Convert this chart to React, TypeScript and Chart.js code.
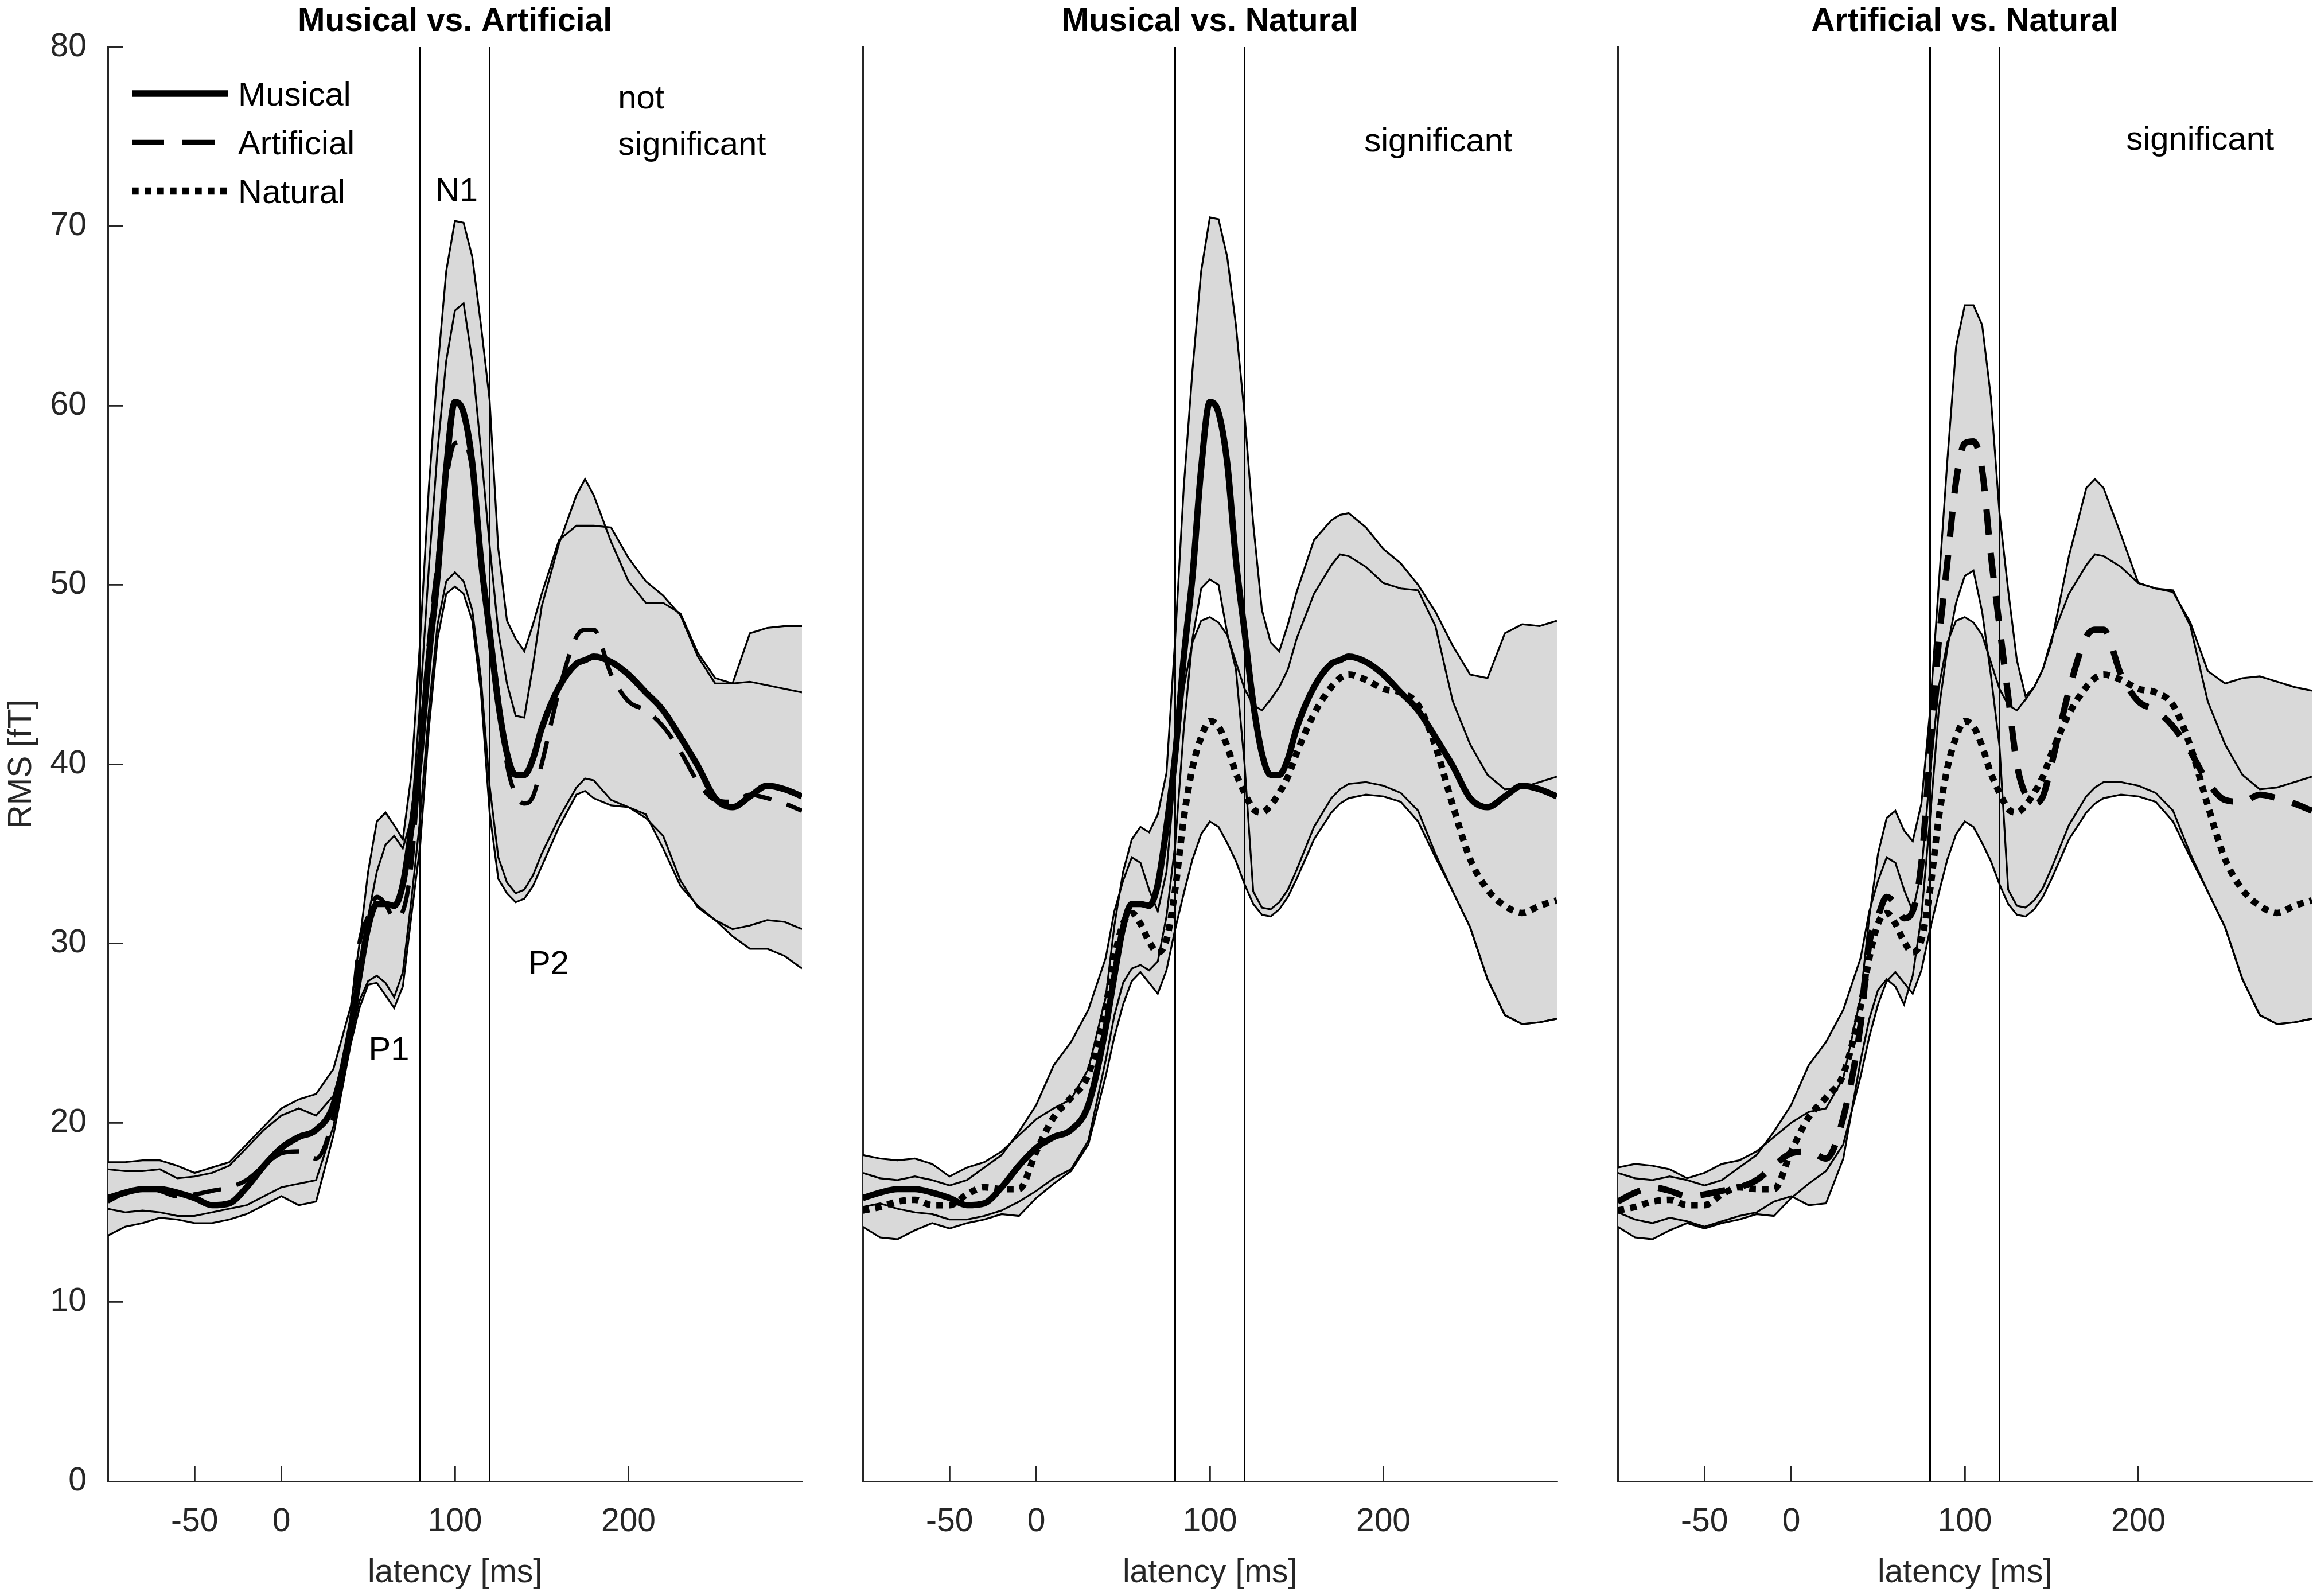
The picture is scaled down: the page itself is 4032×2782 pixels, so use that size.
import { useEffect, useRef } from "react"
import { Chart, registerables } from "chart.js"

Chart.register(...registerables)

const FONT = "'Liberation Sans', Arial, Helvetica, sans-serif"
const AXIS_GREY = "#262626"
const BAND_GREY = "#d9d9d9"

// latency grid (ms), finer around P1 / N1
const latency = [
  -100, -90, -80, -70, -60, -50, -40, -30, -20, -10, 0, 10, 20, 30,
  40, 45, 50, 55, 60, 65, 70, 75, 80, 85, 90, 95, 100, 105, 110, 115, 120, 125, 130, 135, 140, 145, 150,
  160, 170, 175, 180, 190, 200, 210, 220, 230, 240, 250, 260, 270, 280, 290, 300,
]

// condition means (fT)
const musicalMean = [
  15.8, 16.1, 16.3, 16.3, 16.1, 15.8, 15.4, 15.5, 16.4, 17.6, 18.6, 19.2, 19.6, 21.0,
  25.3, 28.2, 30.9, 32.2, 32.2, 32.1, 33.3, 36.5, 40.5, 46.0, 50.5, 56.5, 60.2, 59.6, 56.8, 51.4, 47.4, 43.4, 40.6, 39.4, 39.4, 40.3, 42.0,
  44.3, 45.6, 45.8, 46.0, 45.7, 45.0, 44.0, 43.0, 41.5, 39.9, 38.1, 37.6, 38.2, 38.8, 38.6, 38.2,
]
const artificialMean = [
  15.6, 16.1, 16.4, 16.2, 15.9, 16.0, 16.2, 16.4, 16.8, 17.6, 18.3, 18.4, 18.0, 20.3,
  25.5, 30.0, 31.5, 32.6, 32.2, 31.4, 31.8, 34.5, 40.7, 46.8, 51.3, 55.8, 57.9, 58.0, 56.4, 51.7, 47.7, 43.8, 40.0, 38.3, 37.8, 38.2, 40.0,
  44.1, 47.1, 47.5, 47.5, 45.0, 43.5, 43.0, 42.1, 40.7, 39.0, 38.0, 37.9, 38.3, 38.1, 37.8, 37.4,
]
const naturalMean = [
  15.1, 15.3, 15.6, 15.7, 15.4, 15.4, 16.0, 16.4, 16.3, 16.3, 18.4, 20.3, 21.4, 22.7,
  26.5, 29.2, 31.1, 31.7, 31.1, 30.1, 29.5, 30.2, 33.0, 37.0, 39.8, 41.5, 42.4, 42.1, 41.0, 39.5, 38.4, 37.5, 37.3, 37.7, 38.4, 39.3, 40.6,
  42.8, 44.3, 44.8, 45.0, 44.7, 44.2, 44.0, 43.3, 41.0, 37.7, 34.7, 33.0, 32.1, 31.7, 32.1, 32.4,
]

// shaded band outlines, as drawn in each panel
const p1MusicalUpper = [
  17.8, 17.8, 17.9, 17.9, 17.6, 17.2, 17.5, 17.8, 18.8, 19.8, 20.8, 21.3, 21.6, 23.0,
  26.5, 30.0, 34.0, 36.8, 37.3, 36.6, 35.8, 39.5, 47.0, 55.5, 62.0, 67.5, 70.3, 70.2, 68.3, 64.5, 60.3, 52.0, 48.0, 47.0, 46.3, 47.8, 49.5,
  52.5, 53.3, 53.3, 53.3, 53.2, 51.5, 50.2, 49.4, 48.3, 46.0, 44.5, 44.5, 47.3, 47.6, 47.7, 47.7,
]
const p1MusicalLower = [
  13.7, 14.2, 14.4, 14.7, 14.6, 14.4, 14.4, 14.6, 14.9, 15.4, 15.9, 15.4, 15.6, 19.3,
  24.4, 26.4, 27.7, 27.8, 27.1, 26.4, 27.6, 31.6, 35.5, 42.0, 47.0, 49.5, 49.9, 49.5, 48.0, 44.0, 37.3, 33.6, 32.8, 32.3, 32.5, 33.2, 34.3,
  36.5, 38.3, 38.5, 38.1, 37.7, 37.6, 37.0, 36.0, 33.5, 32.0, 31.3, 30.4, 29.7, 29.7, 29.3, 28.6,
]
const p1ArtificialUpper = [
  17.4, 17.3, 17.3, 17.4, 16.9, 17.0, 17.2, 17.6, 18.6, 19.6, 20.4, 20.8, 20.4, 21.5,
  25.0, 28.0, 31.5, 34.0, 35.5, 36.0, 35.3, 37.0, 43.5, 51.0, 57.5, 62.5, 65.3, 65.7, 62.5, 57.5, 52.2, 47.4, 44.5, 42.7, 42.6, 45.5, 48.8,
  52.3, 55.0, 55.9, 55.0, 52.4, 50.2, 49.0, 49.0, 48.4, 46.2, 44.8, 44.5, 44.6, 44.4, 44.2, 44.0,
]
const p1ArtificialLower = [
  15.2, 15.0, 15.1, 15.0, 14.8, 14.8, 15.0, 15.2, 15.4, 15.9, 16.4, 16.6, 16.8, 19.8,
  24.8, 26.8, 27.9, 28.2, 27.8, 27.0, 28.4, 32.5, 37.0, 43.0, 47.8, 50.2, 50.7, 50.2, 48.6, 44.8, 38.8, 34.8, 33.4, 32.8, 33.0, 33.8, 35.0,
  37.0, 38.7, 39.2, 39.1, 38.0, 37.6, 37.2, 35.3, 33.2, 32.1, 31.3, 30.8, 31.0, 31.3, 31.2, 30.8,
]
const p2MusicalUpper = [
  18.2, 18.0, 17.9, 18.0, 17.7, 17.0, 17.5, 17.8, 18.4, 19.3, 20.2, 20.8, 21.3, 23.0,
  27.0, 31.0, 34.0, 35.8, 36.5, 36.2, 37.2, 39.5, 47.0, 55.5, 62.0, 67.5, 70.5, 70.4, 68.3, 64.5, 59.5, 53.4, 48.6, 46.8, 46.3, 47.8, 49.6,
  52.5, 53.6, 53.9, 54.0, 53.2, 52.0, 51.2, 50.0, 48.5, 46.6, 45.0, 44.8, 47.3, 47.8, 47.7, 48.0,
]
const p2MusicalLower = [
  15.3, 15.5, 15.2, 15.0, 14.9, 14.6, 14.6, 14.8, 15.1, 15.6, 16.2, 16.9, 17.4, 19.0,
  23.5, 26.0, 27.8, 28.6, 28.8, 28.5, 29.0, 31.5, 35.5, 42.0, 47.0, 49.8, 50.3, 50.0, 47.3, 45.3, 40.0, 32.9, 32.0, 31.9, 32.3, 33.0, 34.1,
  36.5, 38.1, 38.6, 38.9, 39.0, 38.8, 38.4, 37.4, 35.0, 32.9, 30.9, 28.0, 26.0, 25.5, 25.6, 25.8,
]
const p3ArtificialUpper = [
  17.5, 17.7, 17.6, 17.4, 16.9, 17.2, 17.7, 17.9, 18.4, 19.2, 20.0, 20.6, 20.8, 22.5,
  27.0, 31.5, 35.0, 37.0, 37.4, 36.3, 35.7, 37.8, 43.0, 50.0, 57.0, 63.3, 65.6, 65.6, 64.5, 60.5, 54.0, 49.7, 45.8, 43.8, 44.3, 45.3, 46.8,
  51.6, 55.4, 55.9, 55.4, 52.8, 50.1, 49.8, 49.6, 47.9, 45.2, 44.5, 44.8, 44.9, 44.6, 44.3, 44.1,
]
const p3ArtificialLower = [
  15.0, 14.6, 14.4, 14.7, 14.5, 14.2, 14.5, 14.8, 15.0, 15.6, 15.9, 15.4, 15.5, 18.0,
  23.5, 25.8, 27.4, 28.0, 27.6, 26.6, 28.2, 31.5, 37.0, 43.0, 46.5, 49.0, 50.5, 50.8, 48.5, 45.0, 41.0, 33.0, 32.1, 32.0, 32.4, 33.1, 34.2,
  36.6, 38.2, 38.7, 39.0, 39.0, 38.8, 38.4, 37.4, 35.0, 32.9, 30.9, 28.0, 26.0, 25.5, 25.6, 25.8,
]
const naturalUpper = [
  17.2, 16.9, 16.8, 17.0, 16.8, 16.5, 16.8, 17.5, 18.2, 19.5, 21.0, 23.2, 24.5, 26.3,
  29.2, 31.8, 33.5, 34.8, 34.5, 33.0, 31.8, 34.0, 39.5, 44.3, 46.8, 48.0, 48.2, 47.9, 47.2, 45.7, 44.2, 43.3, 43.0, 43.6, 44.3, 45.3, 47.0,
  49.5, 51.1, 51.7, 51.6, 51.0, 50.1, 49.8, 49.7, 47.7, 43.5, 41.1, 39.4, 38.6, 38.7, 39.0, 39.3,
]
const naturalLower = [
  14.2, 13.6, 13.5, 14.0, 14.4, 14.1, 14.4, 14.6, 14.9, 14.8, 15.8, 16.6, 17.3, 18.8,
  22.6, 24.8, 26.6, 27.9, 28.4, 27.8, 27.2, 28.5, 30.8, 32.8, 34.7, 36.1, 36.8, 36.5, 35.6, 34.6, 33.3, 32.2, 31.6, 31.5, 31.9, 32.6, 33.6,
  35.8, 37.3, 37.8, 38.1, 38.3, 38.2, 37.9, 36.8, 34.8, 32.9, 30.9, 28.0, 26.0, 25.5, 25.6, 25.8,
]

const xTicks = [-50, 0, 100, 200]
const xRange = [-100, 300]
const yRange = [0, 80]
const n1Window = [80, 120]
const legendLabels = ["Musical", "Artificial", "Natural"]

type LineStyle = { width: number; dash: number[] }

const solidLine: LineStyle = { width: 11, dash: [] }
const thinDash: LineStyle = { width: 7.5, dash: [50, 28] }
const thickDash: LineStyle = { width: 11, dash: [44, 32] }
const dotted: LineStyle = { width: 11.5, dash: [11.5, 10.5] }
const legendStyles: LineStyle[] = [
  { width: 11.5, dash: [] },
  { width: 8.3, dash: [56, 32] },
  { width: 12.5, dash: [11.7, 10.3] },
]

interface Note {
  text: string
  x: number
  y: number
  align: CanvasTextAlign
}

interface Panel {
  title: string
  left: number
  width: number
  plotLeft: number
  plotRight: number
  yLabels: boolean
  means: { values: number[]; style: LineStyle }[]
  bands: { upper: number[]; lower: number[] }[]
  notes: Note[]
  legend: boolean
}

const panels: Panel[] = [
  {
    title: "Musical vs. Artificial",
    left: 0,
    width: 1450,
    plotLeft: 188,
    plotRight: 1398,
    yLabels: true,
    means: [
      { values: musicalMean, style: solidLine },
      { values: artificialMean, style: thinDash },
    ],
    bands: [
      { upper: p1MusicalUpper, lower: p1MusicalLower },
      { upper: p1ArtificialUpper, lower: p1ArtificialLower },
    ],
    notes: [
      { text: "N1", x: 101, y: 71.9, align: "center" },
      { text: "P1", x: 62, y: 24.0, align: "center" },
      { text: "P2", x: 154, y: 28.8, align: "center" },
      { text: "not", x: 194, y: 77.1, align: "left" },
      { text: "significant", x: 194, y: 74.5, align: "left" },
    ],
    legend: true,
  },
  {
    title: "Musical vs. Natural",
    left: 1450,
    width: 1316,
    plotLeft: 54,
    plotRight: 1264,
    yLabels: false,
    means: [
      { values: musicalMean, style: solidLine },
      { values: naturalMean, style: dotted },
    ],
    bands: [
      { upper: p2MusicalUpper, lower: p2MusicalLower },
      { upper: naturalUpper, lower: naturalLower },
    ],
    notes: [{ text: "significant", x: 189, y: 74.7, align: "left" }],
    legend: false,
  },
  {
    title: "Artificial vs. Natural",
    left: 2766,
    width: 1266,
    plotLeft: 54,
    plotRight: 1264,
    yLabels: false,
    means: [
      { values: artificialMean, style: thickDash },
      { values: naturalMean, style: dotted },
    ],
    bands: [
      { upper: p3ArtificialUpper, lower: p3ArtificialLower },
      { upper: naturalUpper, lower: naturalLower },
    ],
    notes: [{ text: "significant", x: 193, y: 74.8, align: "left" }],
    legend: false,
  },
]

const toPoints = (ys: number[]) => ys.map((y, i) => ({ x: latency[i], y }))

function PanelChart({ panel }: { panel: Panel }) {
  const canvasRef = useRef<HTMLCanvasElement>(null)
  const chartRef = useRef<Chart | null>(null)

  useEffect(() => {
    if (!canvasRef.current) return
    if (chartRef.current) chartRef.current.destroy()

    const datasets: any[] = []
    // means first so they end up on top
    panel.means.forEach((m) =>
      datasets.push({
        data: toPoints(m.values),
        borderColor: "#000",
        borderWidth: m.style.width,
        borderDash: m.style.dash,
        borderCapStyle: "butt",
        borderJoinStyle: "round",
        cubicInterpolationMode: "monotone",
        pointRadius: 0,
        fill: false,
      })
    )
    n1Window.forEach((t) =>
      datasets.push({
        data: [
          { x: t, y: yRange[0] },
          { x: t, y: yRange[1] },
        ],
        borderColor: "#000",
        borderWidth: 3,
        pointRadius: 0,
        fill: false,
      })
    )
    panel.bands.forEach((b) => {
      datasets.push({
        data: toPoints(b.upper),
        borderColor: "#000",
        borderWidth: 3.2,
        pointRadius: 0,
        fill: "+1",
        backgroundColor: BAND_GREY,
      })
      datasets.push({
        data: toPoints(b.lower),
        borderColor: "#000",
        borderWidth: 3.2,
        pointRadius: 0,
        fill: false,
      })
    })

    const decor = {
      id: "decor",
      afterDatasetsDraw(chart: any) {
        const { ctx, chartArea, scales } = chart
        ctx.save()
        ctx.fillStyle = "#000"
        ctx.font = `bold 57px ${FONT}`
        ctx.textAlign = "center"
        ctx.textBaseline = "alphabetic"
        ctx.fillText(panel.title, (chartArea.left + chartArea.right) / 2, 54)

        ctx.font = `58px ${FONT}`
        ctx.textBaseline = "middle"
        panel.notes.forEach((n) => {
          ctx.textAlign = n.align
          ctx.fillText(n.text, scales.x.getPixelForValue(n.x), scales.y.getPixelForValue(n.y))
        })

        if (panel.legend) {
          legendLabels.forEach((label, i) => {
            const style = legendStyles[i]
            const y = chartArea.top + 81 + i * 85
            ctx.beginPath()
            ctx.strokeStyle = "#000"
            ctx.lineWidth = style.width
            ctx.lineCap = "butt"
            ctx.setLineDash(style.dash)
            ctx.moveTo(chartArea.left + 42, y)
            ctx.lineTo(chartArea.left + 209, y)
            ctx.stroke()
            ctx.setLineDash([])
            ctx.textAlign = "left"
            ctx.fillText(label, chartArea.left + 227, y + 5)
          })
        }
        ctx.restore()
      },
    }

    chartRef.current = new Chart(canvasRef.current, {
      type: "line",
      data: { datasets },
      plugins: [decor],
      options: {
        responsive: true,
        maintainAspectRatio: false,
        animation: false,
        events: [],
        layout: { padding: { top: 82, right: panel.width - panel.plotRight, left: 0, bottom: 0 } },
        plugins: {
          legend: { display: false },
          tooltip: { enabled: false },
          filler: { propagate: false, drawTime: "beforeDatasetsDraw" },
        },
        scales: {
          x: {
            type: "linear",
            min: xRange[0],
            max: xRange[1],
            afterBuildTicks: (axis: any) => {
              axis.ticks = xTicks.map((value) => ({ value }))
            },
            afterFit: (axis: any) => {
              axis.height = 200
              axis.paddingLeft = 0
              axis.paddingRight = 0
            },
            grid: {
              drawOnChartArea: false,
              drawTicks: true,
              tickLength: -26,
              color: AXIS_GREY,
              lineWidth: 2.8,
            },
            border: { display: true, color: AXIS_GREY, width: 3 },
            ticks: {
              color: AXIS_GREY,
              font: { family: FONT, size: 57 },
              padding: 63,
              maxRotation: 0,
              autoSkip: false,
            },
            title: {
              display: true,
              text: "latency [ms]",
              color: AXIS_GREY,
              font: { family: FONT, size: 57 },
              padding: { top: 0, bottom: 6 },
            },
          },
          y: {
            type: "linear",
            min: yRange[0],
            max: yRange[1],
            afterFit: (axis: any) => {
              axis.width = panel.plotLeft
              // keep the label overhang from pushing the plot area down
              axis.paddingTop = 0
              axis.paddingBottom = 0
            },
            grid: {
              drawOnChartArea: false,
              drawTicks: panel.yLabels,
              tickLength: -26,
              color: AXIS_GREY,
              lineWidth: 2.8,
            },
            border: { display: true, color: AXIS_GREY, width: 3 },
            ticks: {
              display: panel.yLabels,
              stepSize: 10,
              color: AXIS_GREY,
              font: { family: FONT, size: 57 },
              padding: 63,
            },
            title: {
              display: panel.yLabels,
              text: "RMS [fT]",
              color: AXIS_GREY,
              font: { family: FONT, size: 57 },
              padding: { top: 4, bottom: 0 },
            },
          },
        },
      } as any,
    })

    return () => {
      if (chartRef.current) {
        chartRef.current.destroy()
        chartRef.current = null
      }
    }
  }, [panel])

  return (
    <div style={{ position: "absolute", left: panel.left, top: 0, width: panel.width, height: 2782 }}>
      <canvas ref={canvasRef} />
    </div>
  )
}

export default function App() {
  return (
    <div style={{ position: "fixed", left: 0, top: 0, width: 4032, height: 2782, background: "#fff", overflow: "hidden" }}>
      {panels.map((p) => (
        <PanelChart key={p.title} panel={p} />
      ))}
    </div>
  )
}
